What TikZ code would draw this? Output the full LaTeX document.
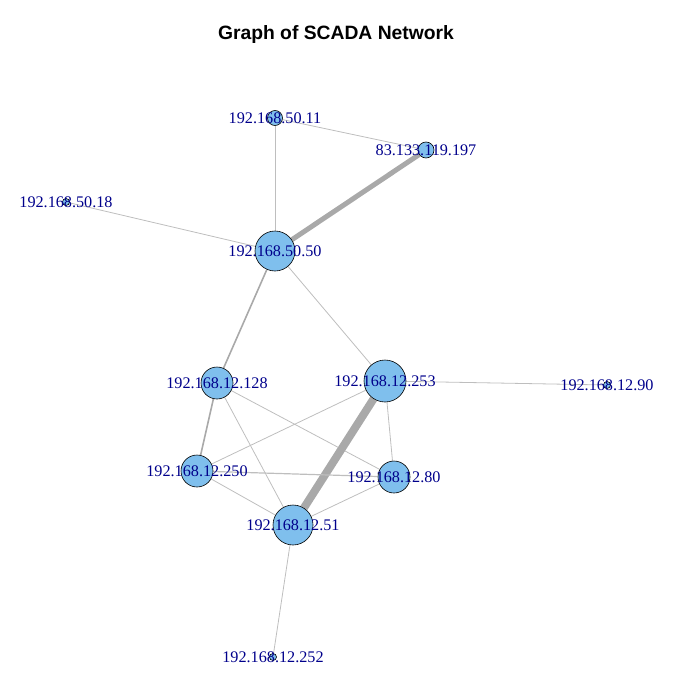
\documentclass[tikz,border=0pt]{standalone}
\usepackage{fontspec}
\setmainfont{Liberation Serif}
\newfontfamily\titlefont{Liberation Sans}
\usetikzlibrary{positioning}
\pgfdeclarelayer{background}
\pgfsetlayers{background,main}
\definecolor{vfill}{RGB}{127,191,237}
\definecolor{vlabel}{RGB}{0,0,139}
\definecolor{elight}{RGB}{190,190,190}
\definecolor{edark}{RGB}{169,169,169}

\begin{document}
\begin{tikzpicture}[x=1pt, y=-1pt,
    vertex/.style={circle, draw=black, line width=0.6pt, fill=vfill, inner sep=0pt, minimum size=#1},
    vlab/.style={font=\fontsize{16.2}{17}\selectfont, text=vlabel, inner sep=0pt},
    thinedge/.style={draw=elight, line width=0.8pt},
    midedge/.style={draw=edark, line width=1.6pt},
    fatedge/.style={draw=edark, line width=#1}]
    \useasboundingbox (0,0) rectangle (673,696);

    % Title
    \node[font=\titlefont\bfseries\fontsize{19.3}{20}\selectfont] (title) at (336,35) {Graph of SCADA Network};

    % Vertices
    \node[vertex=15pt, label={[vlab]center:192.168.50.11}] (a11) at (275,118) {};
    \node[vertex=16pt, label={[vlab]center:83.133.119.197}] (ext) at (426,150) {};
    \node[vertex=7pt, label={[vlab]center:192.168.50.18}] (a18) at (66,202) {};
    \node[vertex=40pt, label={[vlab]center:192.168.50.50}] (a50) at (275,251) {};
    \node[vertex=32pt, label={[vlab]center:192.168.12.128}] (b128) at (217,383) {};
    \node[vertex=42pt, label={[vlab]center:192.168.12.253}] (b253) at (385,381) {};
    \node[vertex=7pt, label={[vlab]center:192.168.12.90}] (b90) at (607,385) {};
    \node[vertex=32pt, label={[vlab]center:192.168.12.250}] (b250) at (197,471) {};
    \node[vertex=32pt, label={[vlab]center:192.168.12.80}] (b80) at (394,477) {};
    \node[vertex=40pt, label={[vlab]center:192.168.12.51}] (b51) at (293,525) {};
    \node[vertex=7pt, label={[vlab]center:192.168.12.252}] (b252) at (273,657) {};

    % Edges
    \begin{pgfonlayer}{background}
    \draw[thinedge] (a11) -- (ext);
    \draw[thinedge] (a11) -- (a50);
    \draw[fatedge=5pt] (ext) -- (a50);
    \draw[thinedge] (a18) -- (a50);
    \draw[midedge] (a50) -- (b128);
    \draw[thinedge] (a50) -- (b253);
    \draw[thinedge] (b253) -- (b90);
    \draw[midedge] (b128) -- (b250);
    \draw[thinedge] (b128) -- (b80);
    \draw[thinedge] (b128) -- (b51);
    \draw[thinedge] (b253) -- (b250);
    \draw[fatedge=8pt] (b253) -- (b51);
    \draw[thinedge] (b253) -- (b80);
    \draw[thinedge, line width=1.2pt] (b250) -- (b80);
    \draw[thinedge] (b250) -- (b51);
    \draw[thinedge] (b80) -- (b51);
    \draw[thinedge] (b51) -- (b252);
    \end{pgfonlayer}
\end{tikzpicture}
\end{document}
